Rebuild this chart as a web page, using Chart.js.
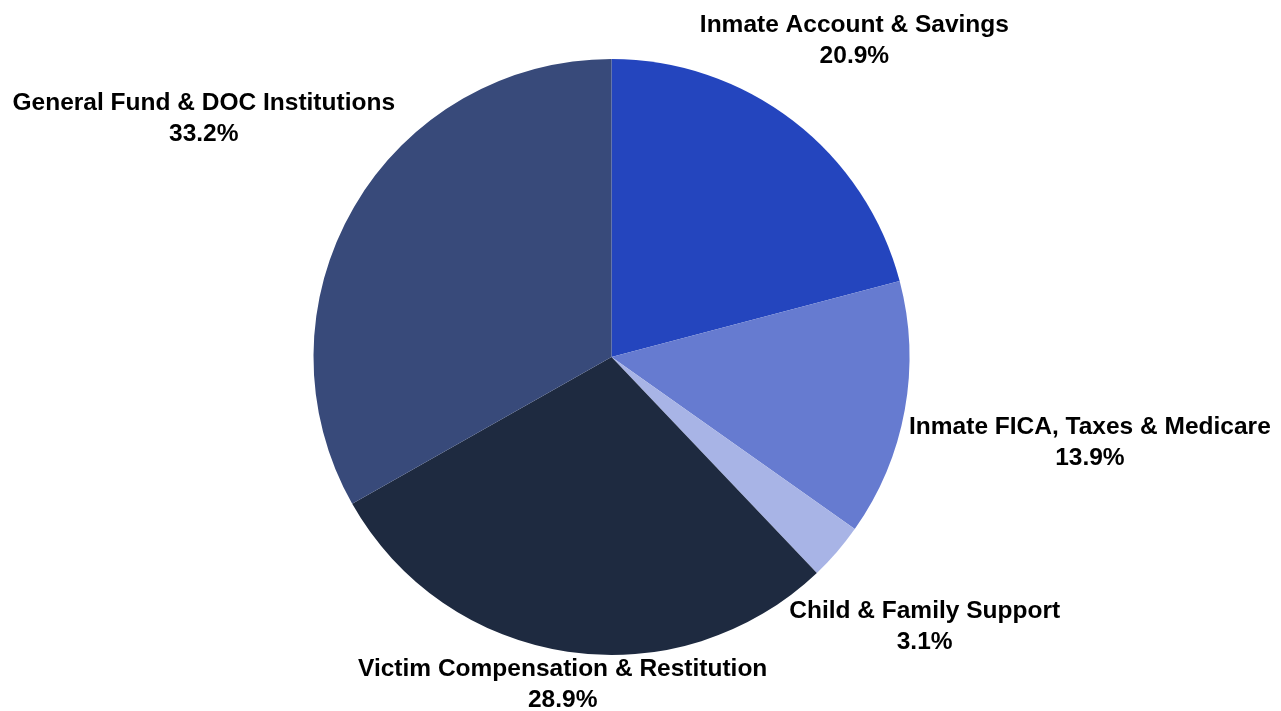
<!DOCTYPE html>
<html>
<head>
<meta charset="utf-8">
<script src="https://cdn.jsdelivr.net/npm/chart.js@4"></script>
<style>
    body { margin: 0; background: #ffffff; }
    #chart-box { width: 1281px; height: 711px; }
</style>
</head>
<body>
<div id="chart-box"><canvas id="distribution-chart"></canvas></div>
<script>
var labels = ['Inmate Account & Savings', 'Inmate FICA, Taxes & Medicare', 'Child & Family Support', 'Victim Compensation & Restitution', 'General Fund & DOC Institutions'];
var percents = [20.9, 13.9, 3.1, 28.9, 33.2];
var colors = ['#2445be', '#667bd0', '#a8b4e6', '#1e2a40', '#384a7a'];

var label_font = 'bold 24.5px "Liberation Sans", Arial, sans-serif';
var line_gap = 31;
var cap_height = 17.5;
var text_lift = 3;

// distance from the pie centre to the closest point of a box
function box_distance(cx, cy, bx, by, w, h){
    var nx = Math.max(bx - w / 2, Math.min(cx, bx + w / 2));
    var ny = Math.max(by - h / 2, Math.min(cy, by + h / 2));
    return Math.hypot(nx - cx, ny - cy);
}

var outside_labels = {
    id: 'outsideLabels',
    afterDraw: function (chart) {
        var ctx = chart.ctx;
        var arcs = chart.getDatasetMeta(0).data;
        ctx.save();
        ctx.font = label_font;
        ctx.fillStyle = '#000000';
        ctx.textAlign = 'center';
        ctx.textBaseline = 'alphabetic';
        arcs.forEach(function (arc, i) {
            var mid = (arc.startAngle + arc.endAngle) / 2;
            var ux = Math.cos(mid);
            var uy = Math.sin(mid);
            var line1 = labels[i];
            var line2 = percents[i].toFixed(1) + '%';
            var w = Math.max(ctx.measureText(line1).width, ctx.measureText(line2).width);
            var h = cap_height + line_gap;
            var want = arc.outerRadius + 6;
            var lo = 0, hi = arc.outerRadius * 3;
            for (var k = 0; k < 40; k++){
                var t = (lo + hi) / 2;
                if (box_distance(arc.x, arc.y, arc.x + ux * t, arc.y + uy * t, w, h) < want){
                    lo = t;
                } else {
                    hi = t;
                }
            }
            var bx = arc.x + ux * hi;
            var top = arc.y + uy * hi - h / 2 - text_lift;
            ctx.fillText(line1, bx, top + cap_height);
            ctx.fillText(line2, bx, top + cap_height + line_gap);
        });
        ctx.restore();
    }
};

var distribution_chart = new Chart(document.getElementById('distribution-chart').getContext('2d'), {
    type: 'pie',
    data: {
        labels: labels,
        datasets: [{
            data: percents,
            backgroundColor: colors,
            borderWidth: 0,
            radius: 298
        }]
    },
    options: {
        responsive: true,
        maintainAspectRatio: false,
        animation: false,
        layout: {
            padding: { left: 0, right: 58, top: 60, bottom: 57 }
        },
        plugins: {
            legend: { display: false },
            tooltip: { enabled: false }
        }
    },
    plugins: [outside_labels]
});
</script>
</body>
</html>
